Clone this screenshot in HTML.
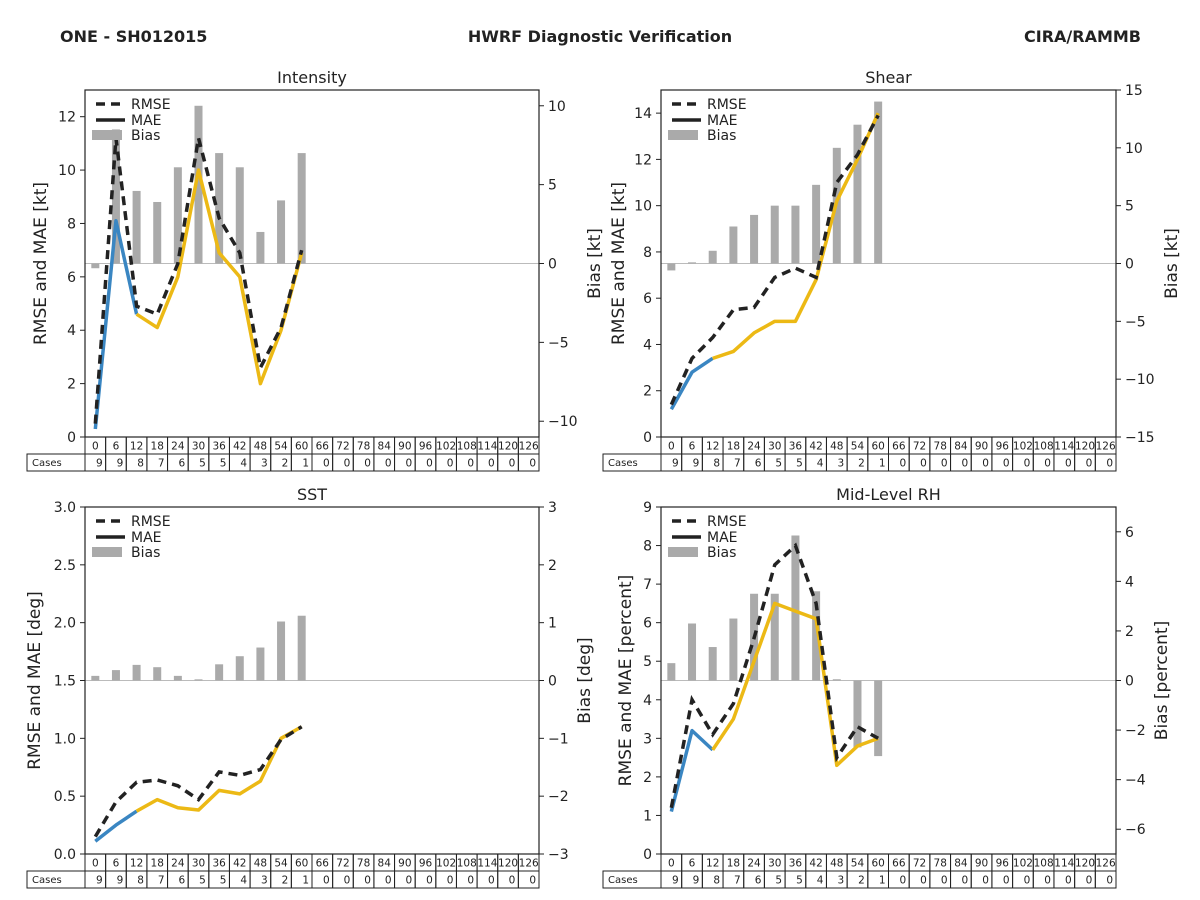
<!DOCTYPE html>
<html><head><meta charset="utf-8"><style>
body{margin:0;background:#fff;}
svg{display:block;font-family:"DejaVu Sans","Liberation Sans",sans-serif;}
</style></head><body>
<svg id="fig" width="1200" height="900">
<text x="60" y="42" font-size="16" font-weight="bold" fill="#222">ONE - SH012015</text>
<text x="600" y="42" font-size="16" font-weight="bold" fill="#222" text-anchor="middle">HWRF Diagnostic Verification</text>
<text x="1141" y="42" font-size="16" font-weight="bold" fill="#222" text-anchor="end">CIRA/RAMMB</text>
</svg>
<script>
const leads=[0,6,12,18,24,30,36,42,48,54,60,66,72,78,84,90,96,102,108,114,120,126];
const cases=[9,9,8,7,6,5,5,4,3,2,1,0,0,0,0,0,0,0,0,0,0,0];
const intRmse=[0.5,11.2,4.9,4.6,6.5,11.2,8.2,6.9,2.6,4.1,7.0];
const intMae=[0.3,8.1,4.6,4.1,6.0,10.0,6.9,6.0,2.0,4.0,6.9];
const intBias=[-0.3,8.5,4.6,3.9,6.1,10.0,7.0,6.1,2.0,4.0,7.0];
const shrRmse=[1.4,3.4,4.3,5.5,5.6,6.9,7.3,6.9,11.0,12.2,13.9];
const shrMae=[1.2,2.8,3.4,3.7,4.5,5.0,5.0,6.8,10.2,12.0,14.0];
const shrBias=[-0.6,0.1,1.1,3.2,4.2,5.0,5.0,6.8,10.0,12.0,14.0];
const sstRmse=[0.15,0.45,0.62,0.64,0.59,0.47,0.71,0.68,0.73,0.99,1.1];
const sstMae=[0.11,0.25,0.37,0.47,0.40,0.38,0.55,0.52,0.63,1.0,1.1];
const sstBias=[0.08,0.18,0.27,0.23,0.08,0.02,0.28,0.42,0.57,1.02,1.12];
const rhRmse=[1.2,4.0,3.1,3.9,5.6,7.5,8.0,6.5,2.5,3.3,3.0];
const rhMae=[1.1,3.2,2.7,3.5,5.0,6.5,6.3,6.1,2.3,2.8,3.0];
const rhBias=[0.7,2.3,1.35,2.5,3.5,3.5,5.85,3.6,0.05,-2.7,-3.05];

const NS="http://www.w3.org/2000/svg";
const fig=document.getElementById('fig');
function mk(tag,attrs,parent,text){const e=document.createElementNS(NS,tag);for(const k in attrs)e.setAttribute(k,attrs[k]);if(text!==undefined)e.textContent=text;(parent||fig).appendChild(e);return e;}
function fmt(v,dec){let s=v.toFixed(dec);return v<0?'\u2212'+s.slice(1):s;}

function panel(p){
  const g=mk('g',{});
  
  
  const x0=p.x0,x1=p.x1,y0=p.y0,y1=p.y1,n=leads.length,cw=(x1-x0)/n;
  const xs=i=>x0+(i+0.5)*cw;
  const yl=v=>y1-(v-p.lmin)/(p.lmax-p.lmin)*(y1-y0);
  const yr=v=>y1-(v-p.rmin)/(p.rmax-p.rmin)*(y1-y0);
  // title
  const t=mk('text',{x:(x0+x1)/2,y:y0-7,'font-size':16,'text-anchor':'middle',fill:'#222'},g,p.title);
  
  // zero line
  const zl=mk('line',{x1:x0,x2:x1,y1:yr(0),y2:yr(0),stroke:'#bbb','stroke-width':1},g);
  
  // bars
  p.bias.forEach((v,i)=>{
    const a=yr(0),b=yr(v);
    const r=mk('rect',{x:xs(i)-4,y:Math.min(a,b),width:8,height:Math.max(Math.abs(a-b),0.8),fill:'#aaa'},g);
    
    
  });
  // lines
  const pts=(arr,a,b)=>arr.slice(a,b).map((v,k)=>xs(k+a)+','+yl(v)).join(' ');
  const m1=mk('polyline',{points:pts(p.mae,0,3),fill:'none',stroke:'#3a86c2','stroke-width':3.5,'stroke-linejoin':'round'},g);
  
  const m2=mk('polyline',{points:pts(p.mae,2,p.mae.length),fill:'none',stroke:'#ecb915','stroke-width':3.5,'stroke-linejoin':'round'},g);
  
  const rl=mk('polyline',{points:pts(p.rmse,0,p.rmse.length),fill:'none',stroke:'#222','stroke-width':3.5,'stroke-dasharray':'9,6'},g);
  
  // frame
  const fr=mk('rect',{x:x0,y:y0,width:x1-x0,height:y1-y0,fill:'none',stroke:'#222','stroke-width':1.2},g);
  
  // left ticks
  for(let v=p.lmin;v<=p.lmax+1e-9;v+=p.lstep){
    const y=yl(v);
    mk('line',{x1:x0-5,x2:x0,y1:y,y2:y,stroke:'#222'},g);
    const tt=mk('text',{x:x0-9,y:y+5,'font-size':14,'text-anchor':'end',fill:'#222'},g,fmt(v,p.ldec));
    
  }
  for(let v=p.rtmin;v<=p.rtmax+1e-9;v+=p.rstep){
    const y=yr(v);
    mk('line',{x1:x1,x2:x1+5,y1:y,y2:y,stroke:'#222'},g);
    const tt=mk('text',{x:x1+9,y:y+5,'font-size':14,fill:'#222'},g,fmt(v,0));
    
  }
  const ly=mk('text',{x:0,y:0,'font-size':17,'text-anchor':'middle',fill:'#222',transform:`translate(${p.llx},${(y0+y1)/2}) rotate(-90)`},g,p.lab);
  
  const ry=mk('text',{x:0,y:0,'font-size':17,'text-anchor':'middle',fill:'#222',transform:`translate(${p.rlx},${(y0+y1)/2}) rotate(-90)`},g,p.rlab);
  
  // legend
  const lg=mk('g',{},g);
  
  mk('line',{x1:x0+11,x2:x0+40,y1:y0+14,y2:y0+14,stroke:'#222','stroke-width':3.5,'stroke-dasharray':'9,6'},lg);
  mk('text',{x:x0+46,y:y0+19,'font-size':14,fill:'#222'},lg,'RMSE');
  mk('line',{x1:x0+11,x2:x0+40,y1:y0+30,y2:y0+30,stroke:'#222','stroke-width':3.5},lg);
  mk('text',{x:x0+46,y:y0+35,'font-size':14,fill:'#222'},lg,'MAE');
  mk('rect',{x:x0+7,y:y0+40,width:30,height:10,fill:'#aaa'},lg);
  mk('text',{x:x0+46,y:y0+50,'font-size':14,fill:'#222'},lg,'Bias');
  // table
  const tb=mk('g',{},g);
  
  const ty=y1,rh=17;
  mk('rect',{x:x0-58,y:ty+rh,width:58,height:rh,fill:'none',stroke:'#222'},tb);
  mk('text',{x:x0-53,y:ty+rh+12,'font-size':10,fill:'#222'},tb,'Cases');
  leads.forEach((L,i)=>{
    const cx=x0+i*cw;
    mk('rect',{x:cx,y:ty,width:cw,height:rh,fill:'none',stroke:'#222'},tb);
    mk('rect',{x:cx,y:ty+rh,width:cw,height:rh,fill:'none',stroke:'#222'},tb);
    mk('text',{x:cx+cw/2,y:ty+12.5,'font-size':10.5,'text-anchor':'middle',fill:'#222'},tb,L);
    mk('text',{x:cx+cw-3,y:ty+rh+12.5,'font-size':10.5,'text-anchor':'end',fill:'#222'},tb,cases[i]);
  });
}
panel({id:'intensity',title:'Intensity',x0:85,x1:539,y0:90,y1:437,lmin:0,lmax:13,lstep:2,ldec:0,rmin:-11,rmax:11,rtmin:-10,rtmax:10,rstep:5,
  rmse:intRmse,mae:intMae,bias:intBias,lab:'RMSE and MAE [kt]',rlab:'Bias [kt]',llx:46,rlx:600});
panel({id:'shear',title:'Shear',x0:661,x1:1116,y0:90,y1:437,lmin:0,lmax:15,lstep:2,ldec:0,rmin:-15,rmax:15,rtmin:-15,rtmax:15,rstep:5,
  rmse:shrRmse,mae:shrMae,bias:shrBias,lab:'RMSE and MAE [kt]',rlab:'Bias [kt]',llx:624,rlx:1177});
panel({id:'sst',title:'SST',x0:85,x1:539,y0:507,y1:854,lmin:0,lmax:3,lstep:0.5,ldec:1,rmin:-3,rmax:3,rtmin:-3,rtmax:3,rstep:1,
  rmse:sstRmse,mae:sstMae,bias:sstBias,lab:'RMSE and MAE [deg]',rlab:'Bias [deg]',llx:40,rlx:590});
panel({id:'rh',title:'Mid-Level RH',x0:661,x1:1116,y0:507,y1:854,lmin:0,lmax:9,lstep:1,ldec:0,rmin:-7,rmax:7,rtmin:-6,rtmax:6,rstep:2,
  rmse:rhRmse,mae:rhMae,bias:rhBias,lab:'RMSE and MAE [percent]',rlab:'Bias [percent]',llx:631,rlx:1167});
</script>
</body></html>
